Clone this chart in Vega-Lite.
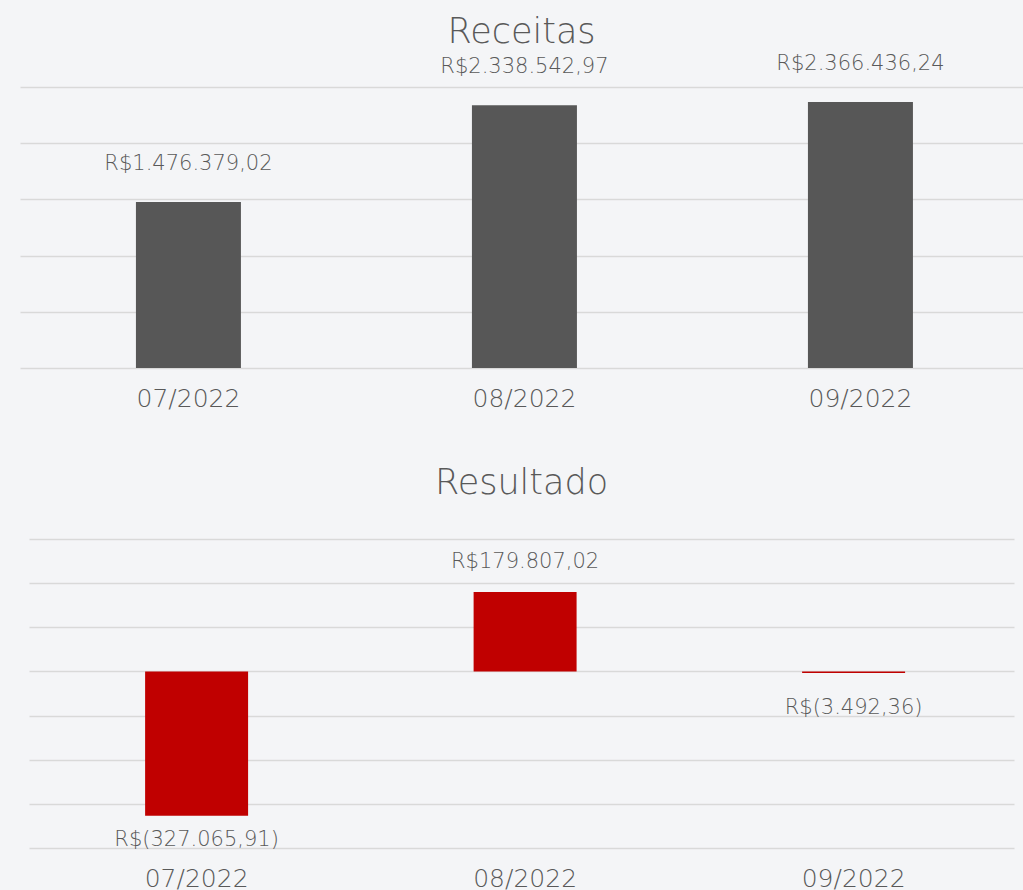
{
  "$schema": "https://vega.github.io/schema/vega-lite/v6.json",
  "background": "#f4f5f7",
  "padding": {"left": 20, "top": 15, "right": 0, "bottom": 0},
  "config": {
    "view": {"stroke": null},
    "font": "DejaVu Sans",
    "axis": {"gridColor": "#d9d9d9", "gridWidth": 1.5}
  },
  "datasets": {
    "receitas": [
      {"mes": "07/2022", "valor": 1476379.02, "rotulo": "R$1.476.379,02"},
      {"mes": "08/2022", "valor": 2338542.97, "rotulo": "R$2.338.542,97"},
      {"mes": "09/2022", "valor": 2366436.24, "rotulo": "R$2.366.436,24"}
    ],
    "resultado": [
      {"mes": "07/2022", "valor": -327065.91, "rotulo": "R$(327.065,91)"},
      {"mes": "08/2022", "valor": 179807.02, "rotulo": "R$179.807,02"},
      {"mes": "09/2022", "valor": -3492.36, "rotulo": "R$(3.492,36)"}
    ]
  },
  "vconcat": [
    {
      "width": 1003,
      "height": 281,
      "data": {"name": "receitas"},
      "title": {"text": "Receitas", "fontSize": 35, "fontWeight": 200, "color": "#595959", "frame": "group", "baseline": "alphabetic", "offset": -25, "anchor": "middle"},
      "encoding": {
        "x": {
          "field": "mes", "type": "nominal", "sort": null,
          "scale": {"paddingInner": 0.6875, "paddingOuter": 0.3363, "align": 0.513},
          "axis": {"title": null, "labelAngle": 0, "ticks": false, "tickSize": 0, "domain": false, "grid": false, "labelFontSize": 25, "labelFontWeight": 200, "labelColor": "#595959", "labelPadding": 38, "labelBaseline": "alphabetic"}
        },
        "y": {
          "field": "valor", "type": "quantitative",
          "scale": {"domain": [0, 2500000], "nice": false, "zero": true},
          "axis": {"title": null, "labels": false, "ticks": false, "domain": false, "grid": true, "values": [0, 500000, 1000000, 1500000, 2000000, 2500000]}
        }
      },
      "layer": [
        {"mark": {"type": "bar", "color": "#575757"}},
        {"mark": {"type": "text", "dy": -32, "baseline": "alphabetic", "align": "center", "fontSize": 21, "fontWeight": 200, "color": "#595959"}, "encoding": {"text": {"field": "rotulo"}}}
      ]
    },
    {
      "width": 985,
      "height": 309,
      "data": {"name": "resultado"},
      "title": {"text": "Resultado", "fontSize": 35, "fontWeight": 200, "color": "#595959", "frame": "group", "baseline": "alphabetic", "offset": 10, "anchor": "middle"},
      "encoding": {
        "x": {
          "field": "mes", "type": "nominal", "sort": null,
          "scale": {"paddingInner": 0.6865, "paddingOuter": 0.3425, "align": 0.516},
          "axis": {"title": null, "labelAngle": 0, "ticks": false, "tickSize": 0, "domain": false, "grid": false, "labelFontSize": 25, "labelFontWeight": 200, "labelColor": "#595959", "labelPadding": 38, "labelBaseline": "alphabetic"}
        },
        "y": {
          "field": "valor", "type": "quantitative",
          "scale": {"domain": [-400000, 300000], "nice": false},
          "axis": {"title": null, "labels": false, "ticks": false, "domain": false, "grid": true, "values": [-400000, -300000, -200000, -100000, 0, 100000, 200000, 300000]}
        }
      },
      "layer": [
        {"mark": {"type": "bar", "color": "#c00000"}},
        {"transform": [{"filter": "datum.valor >= 0"}], "mark": {"type": "text", "dy": -24, "baseline": "alphabetic", "align": "center", "fontSize": 21, "fontWeight": 200, "color": "#595959"}, "encoding": {"text": {"field": "rotulo"}}},
        {"transform": [{"filter": "datum.valor < 0 && datum.valor > -300000"}], "mark": {"type": "text", "dy": 41, "baseline": "alphabetic", "align": "center", "fontSize": 21, "fontWeight": 200, "color": "#595959"}, "encoding": {"text": {"field": "rotulo"}}},
        {"transform": [{"filter": "datum.valor <= -300000"}], "mark": {"type": "text", "dy": 30, "baseline": "alphabetic", "align": "center", "fontSize": 21, "fontWeight": 200, "color": "#595959"}, "encoding": {"text": {"field": "rotulo"}}}
      ]
    }
  ],
  "spacing": 171,
  "bounds": "flush",
  "center": true
}
